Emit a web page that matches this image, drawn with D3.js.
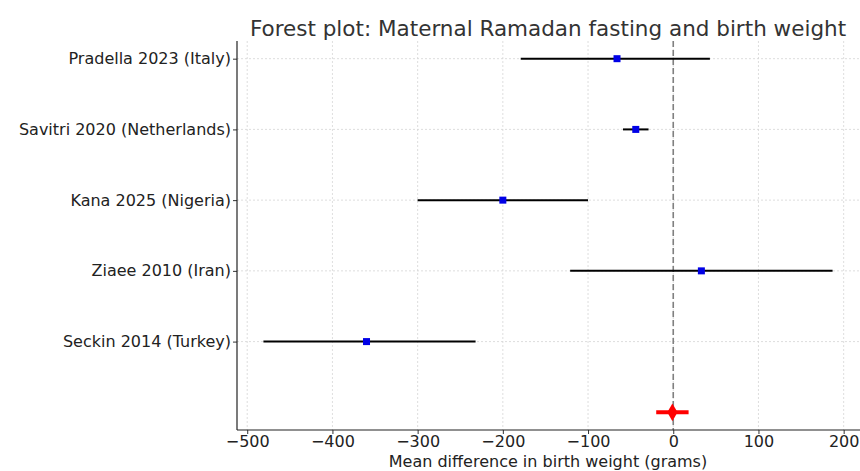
<!DOCTYPE html>
<html><head><meta charset="utf-8">
<script src="https://cdn.jsdelivr.net/npm/d3@7"></script>
<style>body{margin:0;background:#fff}svg{display:block}text{font-family:"DejaVu Sans",sans-serif}</style>
</head><body><svg id="c" width="860" height="471"></svg>
<script>
const studies = ["Pradella 2023 (Italy)","Savitri 2020 (Netherlands)","Kana 2025 (Nigeria)","Ziaee 2010 (Iran)","Seckin 2014 (Turkey)"];
const means = [-66, -44, -200, 33, -360];
const lower = [-179, -59, -300, -121, -481];
const upper = [43, -29, -100, 187, -232];
const pooled = {mean: -1, lower: -20, upper: 18};
const xTicks = [-500,-400,-300,-200,-100,0,100,200];

const svg = d3.select("#c");
const L=237, R=859, T=41, B=430;
const x = d3.scaleLinear().domain([-512, 218]).range([L, R]);
const y = d3.scaleLinear().domain([-0.25, 5.25]).range([T, B]);

// grid
svg.append("g").selectAll("line").data(xTicks).join("line")
  .attr("x1",d=>x(d)).attr("x2",d=>x(d)).attr("y1",T).attr("y2",B)
  .attr("stroke","#d6d6d6").attr("stroke-width",0.8).attr("stroke-dasharray","2,2");
svg.append("g").selectAll("line").data(studies).join("line")
  .attr("x1",L).attr("x2",R).attr("y1",(d,i)=>y(i)).attr("y2",(d,i)=>y(i))
  .attr("stroke","#d6d6d6").attr("stroke-width",0.8).attr("stroke-dasharray","2,2");

// zero line
svg.append("line").attr("x1",x(0)).attr("x2",x(0)).attr("y1",T).attr("y2",B)
  .attr("stroke","#808080").attr("stroke-width",1.6).attr("stroke-dasharray","6,3");

// CIs
svg.append("g").selectAll("line").data(studies).join("line")
  .attr("x1",(d,i)=>x(lower[i])).attr("x2",(d,i)=>x(upper[i]))
  .attr("y1",(d,i)=>y(i)).attr("y2",(d,i)=>y(i))
  .attr("stroke","#000").attr("stroke-width",2);
svg.append("g").selectAll("rect").data(studies).join("rect")
  .attr("x",(d,i)=>x(means[i])-3.5).attr("y",(d,i)=>y(i)-3.5)
  .attr("width",7).attr("height",7).attr("fill","#0000e6");

// pooled
svg.append("line").attr("x1",x(pooled.lower)).attr("x2",x(pooled.upper))
  .attr("y1",y(5)).attr("y2",y(5)).attr("stroke","#f00").attr("stroke-width",4);
svg.append("path").attr("d",d3.symbol(d3.symbolDiamond,90)())
  .attr("transform",`translate(${x(pooled.mean)},${y(5)})`).attr("fill","#f00");

// axes
const xa = svg.append("g").attr("transform",`translate(0,${B})`)
  .call(d3.axisBottom(x).tickValues(xTicks).tickSize(4).tickPadding(2).tickFormat(d=>d3.format("")(d).replace("-","\u2212")));
xa.select(".domain").remove();
xa.selectAll("text").attr("font-size",16).attr("fill","#222");
xa.selectAll(".tick line").attr("stroke","#333");
const ya = svg.append("g").attr("transform",`translate(${L},0)`)
  .call(d3.axisLeft(y).tickValues([0,1,2,3,4]).tickSize(4).tickPadding(2).tickFormat(i=>studies[i]));
ya.select(".domain").remove();
ya.selectAll("text").attr("font-size",16).attr("fill","#222");
ya.selectAll(".tick line").attr("stroke","#333");

// spines
svg.append("line").attr("x1",L).attr("x2",L).attr("y1",T).attr("y2",B).attr("stroke","#222").attr("stroke-width",1.2);
svg.append("line").attr("x1",L).attr("x2",R+5).attr("y1",B).attr("y2",B).attr("stroke","#222").attr("stroke-width",1.2);

// labels
svg.append("text").attr("x",(L+R)/2).attr("y",36).attr("text-anchor","middle")
  .attr("font-size",21.5).attr("fill","#333").text("Forest plot: Maternal Ramadan fasting and birth weight");
svg.append("text").attr("x",(L+R)/2).attr("y",467).attr("text-anchor","middle")
  .attr("font-size",16).attr("fill","#222").text("Mean difference in birth weight (grams)");
</script></body></html>
